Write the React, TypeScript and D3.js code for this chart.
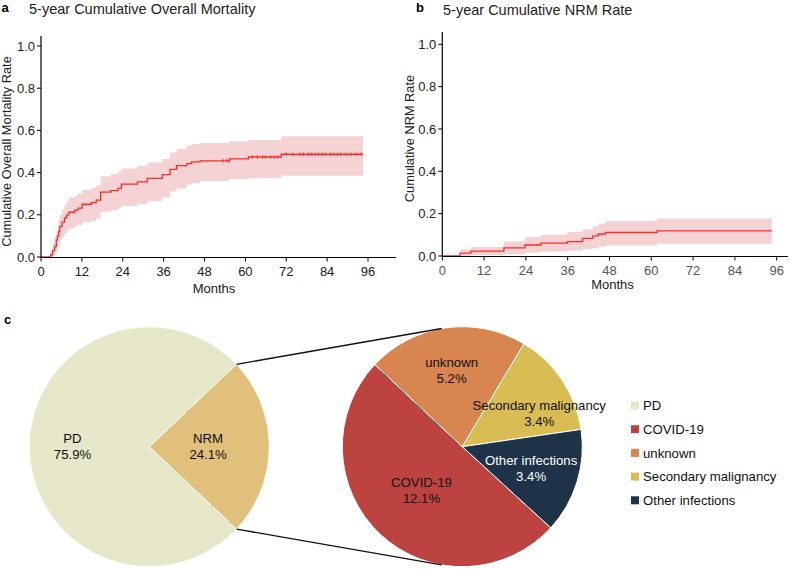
import React from 'react';
import * as d3 from 'd3';

// ---------- data ----------
const monthTicks = [0, 12, 24, 36, 48, 60, 72, 84, 96];
const rateTicks = [0, 0.2, 0.4, 0.6, 0.8, 1.0];

// Panel a: cumulative overall mortality (step function)
const osTime = [0, 2.8, 3.4, 4.0, 4.5, 4.8, 5.2, 5.5, 6.2, 6.9, 7.5, 8.2, 9.9, 10.9, 12.1, 14.8, 16.2, 17.5, 20.5, 22.6, 23.6, 28.3, 31.2, 35.6, 37.9, 39.8, 42.8, 44.2, 46.7, 55.3, 60.9, 70.5];
const osEst = [0, 0.01, 0.03, 0.05, 0.08, 0.1, 0.12, 0.145, 0.165, 0.185, 0.2, 0.212, 0.222, 0.232, 0.25, 0.258, 0.27, 0.307, 0.315, 0.325, 0.345, 0.356, 0.373, 0.39, 0.415, 0.433, 0.443, 0.451, 0.456, 0.465, 0.474, 0.487];
const osLower = [0, 0, 0.005, 0.015, 0.03, 0.045, 0.06, 0.08, 0.095, 0.11, 0.125, 0.135, 0.145, 0.152, 0.165, 0.172, 0.182, 0.215, 0.222, 0.23, 0.242, 0.25, 0.264, 0.282, 0.31, 0.325, 0.343, 0.35, 0.36, 0.368, 0.373, 0.385];
const osUpper = [0, 0.03, 0.06, 0.09, 0.12, 0.15, 0.175, 0.2, 0.225, 0.248, 0.265, 0.28, 0.29, 0.3, 0.318, 0.328, 0.34, 0.383, 0.395, 0.405, 0.42, 0.433, 0.448, 0.465, 0.495, 0.513, 0.528, 0.535, 0.54, 0.548, 0.555, 0.572];
const osEnd = 94.5;
const osCensor = [53.5, 54.5, 55.2, 62, 63.5, 65, 66, 67.5, 68.5, 69.5, 72, 74, 76, 77, 78.5, 79.5, 80.5, 81.5, 82.5, 83.5, 85, 86, 87, 88, 89.5, 91, 92.5, 94];

// Panel b: cumulative NRM
const nrmTime = [0, 5.1, 8.2, 17.7, 23.7, 28.3, 35.9, 40.3, 43.2, 44.8, 46.9, 61.6];
const nrmEst = [0, 0.014, 0.023, 0.038, 0.052, 0.061, 0.068, 0.083, 0.095, 0.104, 0.111, 0.119];
const nrmLower = [0, 0, 0.003, 0.008, 0.015, 0.02, 0.025, 0.032, 0.038, 0.044, 0.05, 0.058];
const nrmUpper = [0, 0.032, 0.042, 0.068, 0.09, 0.1, 0.113, 0.126, 0.141, 0.154, 0.165, 0.177];
const nrmEnd = 94.6;

// Panel c: pie of pie
const outerCategories = ['PD', 'NRM'];
const outerValues = [75.9, 24.1];
const innerCategories = ['COVID-19', 'unknown', 'Secondary malignancy', 'Other infections'];
const innerValues = [12.1, 5.2, 3.4, 3.4];
const legendCategories = ['PD', 'COVID-19', 'unknown', 'Secondary malignancy', 'Other infections'];

// ---------- styles ----------
const FONT = '"Liberation Sans", Arial, Helvetica, sans-serif';
const colorMap: Record<string, string> = {
  PD: '#E6E6C9',
  NRM: '#E0C07B',
  'COVID-19': '#BD4341',
  unknown: '#D9854F',
  'Secondary malignancy': '#DABD52',
  'Other infections': '#1E3348',
};
const textColorMap: Record<string, string> = { 'Other infections': '#ffffff' };
const outerLabelRadius = [0.64, 0.49];
const innerLabelRadius = [0.5, 0.647, 0.7, 0.6];
const innerLabelShiftDeg = [0, 0, 10, 0];

type KMProps = {
  xRange: [number, number];
  yRange: [number, number];
  axisTop: number;
  axisRight: number;
  time: number[];
  est: number[];
  lo: number[];
  hi: number[];
  end: number;
  censor?: number[];
  yLabel: string;
  yLabelX: number;
  yLabelY: number;
  monthsX: number;
  monthsY: number;
  xTickColor: string;
};

function KMPanel(p: KMProps) {
  const x = d3.scaleLinear().domain([0, 96]).range(p.xRange);
  const y = d3.scaleLinear().domain([0, 1]).range(p.yRange);
  const pts = p.time.map((t, i) => ({ t, e: p.est[i], l: p.lo[i], u: p.hi[i] }));
  const last = pts[pts.length - 1];
  pts.push({ t: p.end, e: last.e, l: last.l, u: last.u });
  const line = d3.line<any>().x(d => x(d.t)).y(d => y(d.e)).curve(d3.curveStepAfter);
  const area = d3.area<any>().x(d => x(d.t)).y0(d => y(d.l)).y1(d => y(d.u)).curve(d3.curveStepAfter);
  const estAt = (t: number) => p.est[Math.max(0, d3.bisectRight(p.time, t) - 1)];
  const axisY = y(0) + 0.5;
  const axisX = x(0);
  return (
    <g>
      <path d={area(pts) || ''} fill="#F5D3D5" stroke="none" />
      <path d={line(pts) || ''} fill="none" stroke="#FF2B2B" strokeWidth={1.3} />
      {(p.censor || []).map((c, i) => (
        <line key={i} x1={x(c)} x2={x(c)} y1={y(estAt(c)) - 1.8} y2={y(estAt(c)) + 1.8} stroke="#FF2B2B" strokeWidth={0.9} />
      ))}
      <line x1={axisX} x2={axisX} y1={p.axisTop} y2={axisY} stroke="#000" strokeWidth={1.2} />
      <line x1={axisX} x2={p.axisRight} y1={axisY} y2={axisY} stroke="#000" strokeWidth={1.2} />
      {rateTicks.map(v => (
        <g key={v}>
          <line x1={axisX - 4} x2={axisX} y1={y(v)} y2={y(v)} stroke="#000" strokeWidth={1} />
          <text x={axisX - 6} y={y(v)} dy="0.36em" textAnchor="end" fontSize={13} fill="#222">{v.toFixed(1)}</text>
        </g>
      ))}
      {monthTicks.map(v => (
        <g key={v}>
          <line x1={x(v)} x2={x(v)} y1={axisY} y2={axisY + 4} stroke="#000" strokeWidth={1} />
          <text x={x(v)} y={axisY + 18} textAnchor="middle" fontSize={13} fill={p.xTickColor}>{v}</text>
        </g>
      ))}
      <text x={p.monthsX} y={p.monthsY} textAnchor="middle" fontSize={13} fill="#222">Months</text>
      <text transform={`translate(${p.yLabelX},${p.yLabelY}) rotate(-90)`} textAnchor="middle" fontSize={12.8} fill="#222">{p.yLabel}</text>
    </g>
  );
}

function tangentPoint(px: number, py: number, cx: number, cy: number, r: number, pickLower: boolean) {
  const dx = px - cx, dy = py - cy;
  const d = Math.hypot(dx, dy);
  const th = Math.atan2(dy, dx);
  const a = Math.acos(r / d);
  const p1 = [cx + r * Math.cos(th + a), cy + r * Math.sin(th + a)];
  const p2 = [cx + r * Math.cos(th - a), cy + r * Math.sin(th - a)];
  if (pickLower) return p1[1] > p2[1] ? p1 : p2;
  return p1[1] < p2[1] ? p1 : p2;
}

function PiePanel() {
  const R = 120;
  const lc = { x: 149.3, y: 446.7 };
  const rc = { x: 462.3, y: 446.7 };
  const total = d3.sum(outerValues);
  const nrmFrac = outerValues[1] / total;
  const outerPie = d3.pie<number>().sort(null).value(d => d)
    .startAngle(Math.PI / 2 + nrmFrac * Math.PI)
    .endAngle(Math.PI / 2 + nrmFrac * Math.PI + 2 * Math.PI);
  const innerStart = (132.5 * Math.PI) / 180;
  const innerPie = d3.pie<number>().sort(null).value(d => d)
    .startAngle(innerStart).endAngle(innerStart + 2 * Math.PI);
  const arc = d3.arc<d3.PieArcDatum<number>>().innerRadius(0).outerRadius(R);
  const oArcs = outerPie(outerValues);
  const iArcs = innerPie(innerValues);

  const nrmArc = oArcs[1];
  const ptAt = (ang: number) => [lc.x + R * Math.sin(ang), lc.y - R * Math.cos(ang)];
  const pTop = ptAt(nrmArc.startAngle);
  const pBot = ptAt(nrmArc.endAngle);
  const tTop = tangentPoint(pTop[0], pTop[1], rc.x, rc.y, R, false);
  const tBot = tangentPoint(pBot[0], pBot[1], rc.x, rc.y, R, true);

  const label = (a: d3.PieArcDatum<number>, f: number, shiftDeg: number, c: { x: number; y: number }) => {
    const ang = (a.startAngle + a.endAngle) / 2 + (shiftDeg * Math.PI) / 180;
    return [c.x + R * f * Math.sin(ang), c.y - R * f * Math.cos(ang)];
  };

  return (
    <g>
      <g transform={`translate(${lc.x},${lc.y})`}>
        {oArcs.map((a, i) => (
          <path key={i} d={arc(a) || ''} fill={colorMap[outerCategories[i]]} stroke="#fff" strokeWidth={1} />
        ))}
      </g>
      <g transform={`translate(${rc.x},${rc.y})`}>
        {iArcs.map((a, i) => (
          <path key={i} d={arc(a) || ''} fill={colorMap[innerCategories[i]]} stroke="#fff" strokeWidth={1} />
        ))}
      </g>
      <line x1={pTop[0]} y1={pTop[1]} x2={tTop[0]} y2={tTop[1]} stroke="#111" strokeWidth={1.3} />
      <line x1={pBot[0]} y1={pBot[1]} x2={tBot[0]} y2={tBot[1]} stroke="#111" strokeWidth={1.3} />
      {oArcs.map((a, i) => {
        const [x, y] = label(a, outerLabelRadius[i], 0, lc);
        return (
          <text key={i} x={x} textAnchor="middle" fontSize={13.2} fill="#111">
            <tspan x={x} y={y - 8} dy="0.36em">{outerCategories[i]}</tspan>
            <tspan x={x} y={y + 8} dy="0.36em">{outerValues[i].toFixed(1)}%</tspan>
          </text>
        );
      })}
      {iArcs.map((a, i) => {
        const [x, y] = label(a, innerLabelRadius[i], innerLabelShiftDeg[i], rc);
        const fill = textColorMap[innerCategories[i]] || '#111';
        return (
          <text key={i} x={x} textAnchor="middle" fontSize={13.2} fill={fill}>
            <tspan x={x} y={y - 8} dy="0.36em">{innerCategories[i]}</tspan>
            <tspan x={x} y={y + 8} dy="0.36em">{innerValues[i].toFixed(1)}%</tspan>
          </text>
        );
      })}
      {legendCategories.map((c, i) => {
        const cy = 405.5 + i * 23.7;
        return (
          <g key={c}>
            <rect x={631} y={cy - 4} width={8} height={8} fill={colorMap[c]} />
            <text x={643} y={cy} dy="0.36em" fontSize={13.2} fill="#111">{c}</text>
          </g>
        );
      })}
    </g>
  );
}

export default function App() {
  return (
    <svg width={790} height={569} viewBox="0 0 790 569" style={{ position: 'absolute', left: 0, top: 0, background: '#fff' }} fontFamily={FONT}>
      <rect x={0} y={0} width={790} height={569} fill="#fff" />
      <text x={1.5} y={11.5} fontSize={13} fontWeight="bold" fill="#000">a</text>
      <text x={29} y={13.5} fontSize={14.5} fill="#222">5-year Cumulative Overall Mortality</text>
      <text x={416} y={12.3} fontSize={13} fontWeight="bold" fill="#000">b</text>
      <text x={443} y={15} fontSize={14.5} fill="#222">5-year Cumulative NRM Rate</text>
      <text x={4} y={324} fontSize={13} fontWeight="bold" fill="#000">c</text>
      <KMPanel
        xRange={[41, 368]} yRange={[257, 46]} axisTop={36} axisRight={396}
        time={osTime} est={osEst} lo={osLower} hi={osUpper} end={osEnd} censor={osCensor}
        yLabel="Cumulative Overall Mortality Rate" yLabelX={11} yLabelY={151.5}
        monthsX={214} monthsY={293} xTickColor="#222"
      />
      <KMPanel
        xRange={[442.3, 776.7]} yRange={[256, 44.3]} axisTop={32} axisRight={788}
        time={nrmTime} est={nrmEst} lo={nrmLower} hi={nrmUpper} end={nrmEnd}
        yLabel="Cumulative NRM Rate" yLabelX={414} yLabelY={138.5}
        monthsX={612.5} monthsY={289} xTickColor="#555"
      />
      <PiePanel />
    </svg>
  );
}
